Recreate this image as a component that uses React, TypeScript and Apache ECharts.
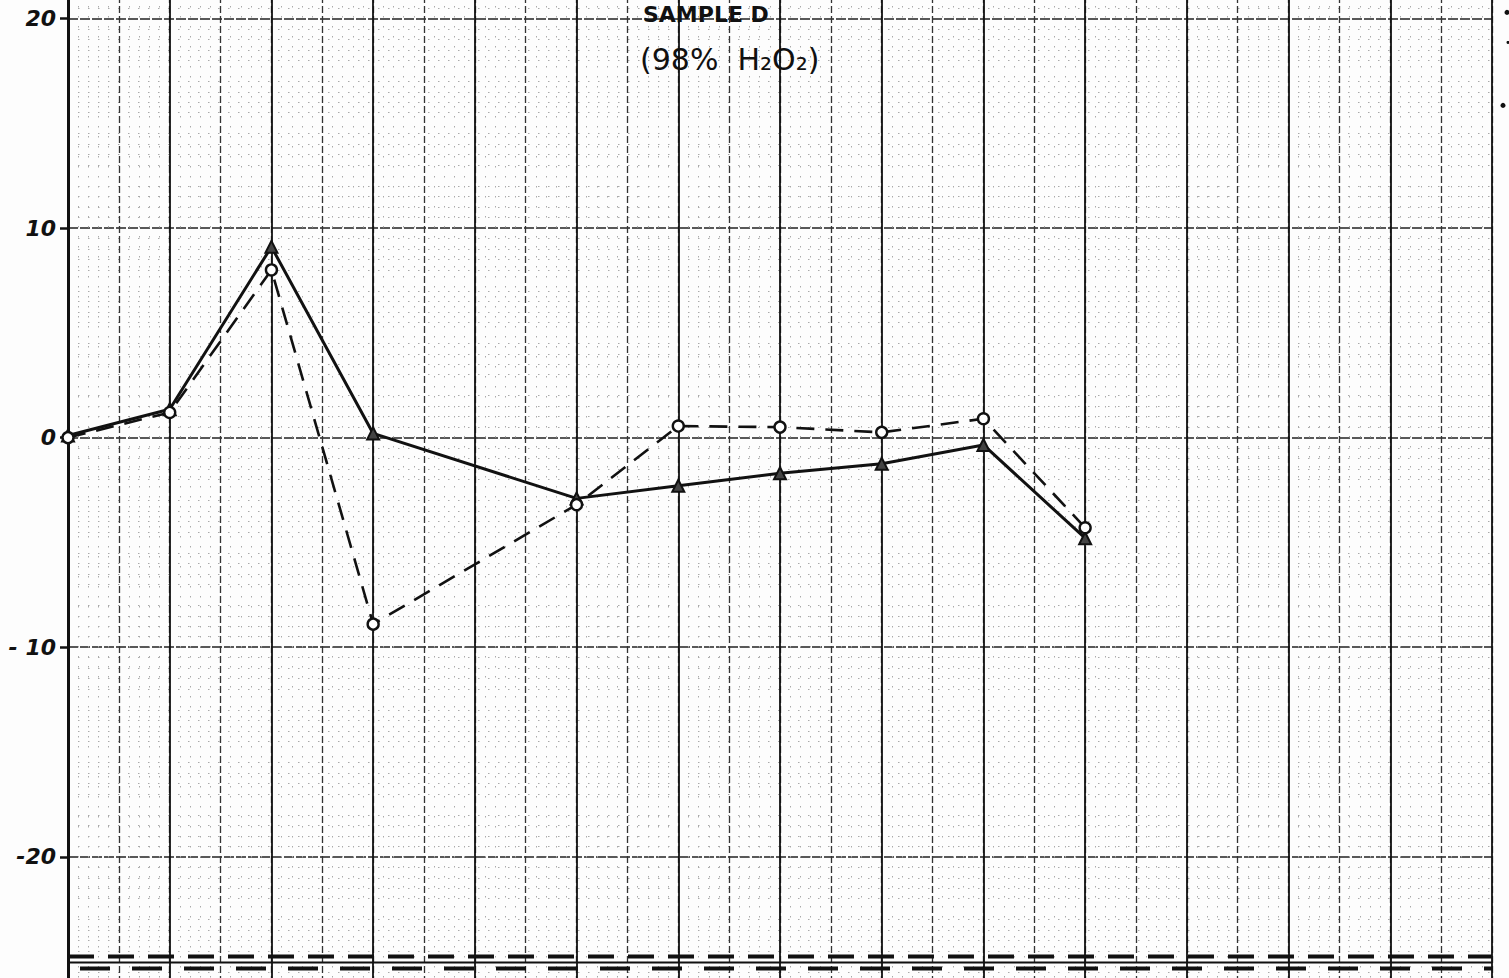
import React, { useEffect, useRef } from "react";
import * as echarts from "echarts";

const xPositions = [0, 1, 2, 3, 5, 6, 7, 8, 9, 10];
const solidSeries = [0.1, 1.35, 9.1, 0.2, -2.9, -2.3, -1.7, -1.25, -0.35, -4.8];
const dashedSeries = [0.0, 1.2, 8.0, -8.9, -3.2, 0.55, 0.5, 0.25, 0.9, -4.3];
const yTickLabels = [-20, -10, 0, 10, 20];
const titleLines = ["SAMPLE D", "(98%  H\u2082O\u2082)"];

const OFF = 34.4; // chart canvas starts this many px above the page top
const CH = 1047.5;

export default function App() {
  const ref = useRef<HTMLDivElement>(null);
  useEffect(() => {
    if (!ref.current) return;
    const chart = echarts.init(ref.current, null, { renderer: "svg" });
    const pts = (ys: number[]) => xPositions.map((x, i) => [x, ys[i]]);
    const font = "'DejaVu Sans', sans-serif";
    chart.setOption({
      animation: false,
      backgroundColor: "#fdfdfd",
      grid: { left: 68, right: 17, top: 0, bottom: 0, containLabel: false },
      xAxis: [
        {
          type: "value",
          min: 0,
          max: 14,
          interval: 0.5,
          axisLine: { show: false },
          axisTick: { show: false },
          axisLabel: { show: false },
          splitLine: { show: true, lineStyle: { color: "#333", width: 1.3, type: [7, 3] } },
          minorTick: { show: false, splitNumber: 5 },
          minorSplitLine: { show: true, lineStyle: { color: "#aaa", width: 1, type: [1.5, 8.5] } },
        },
        {
          type: "value",
          min: 0,
          max: 14,
          interval: 1,
          position: "top",
          axisLine: { show: false },
          axisTick: { show: false },
          axisLabel: { show: false },
          splitLine: { show: true, lineStyle: { color: "#111", width: 1.8 } },
        },
      ],
      yAxis: [
        {
          type: "value",
          min: -27.5,
          max: 22.5,
          interval: 2.5,
          axisLine: { show: true, lineStyle: { color: "#111", width: 3 } },
          axisTick: {
            show: true,
            length: 8,
            customValues: yTickLabels,
            lineStyle: { color: "#111", width: 2.5 },
          },
          axisLabel: {
            show: true,
            customValues: yTickLabels,
            margin: 12,
            formatter: (v: number) => (v === -10 ? "- 10" : String(v)),
            fontFamily: font,
            fontStyle: "italic",
            fontWeight: "bold",
            fontSize: 22,
            color: "#111",
          },
          splitLine: { show: true, lineStyle: { color: "#222", width: 1.6, type: [10, 2] } },
          minorTick: { show: false, splitNumber: 5 },
          minorSplitLine: { show: true, lineStyle: { color: "#aaa", width: 1, type: [1.5, 8.5] } },
        },
      ],
      series: [
        {
          name: "solid",
          type: "line",
          data: pts(solidSeries),
          lineStyle: { color: "#111", width: 3 },
          symbol: "triangle",
          symbolSize: 12,
          itemStyle: { color: "#444", borderColor: "#111", borderWidth: 2 },
          z: 5,
        },
        {
          name: "dashed",
          type: "line",
          data: pts(dashedSeries),
          lineStyle: { color: "#111", width: 2.6, type: [18, 11] },
          symbol: "circle",
          symbolSize: 11,
          itemStyle: { color: "#fff", borderColor: "#111", borderWidth: 2.4 },
          z: 6,
        },
      ],
      graphic: [
        {
          type: "text",
          left: 643,
          top: OFF + 3,
          style: { text: titleLines[0], font: `bold 22px ${font}`, fill: "#111" },
          z: 20,
        },
        {
          type: "text",
          left: 640,
          top: OFF + 44,
          style: { text: titleLines[1], font: `30px ${font}`, fill: "#111" },
          z: 20,
        },
        {
          type: "line",
          shape: { x1: 68, y1: OFF + 956, x2: 1492, y2: OFF + 956 },
          style: { stroke: "#111", lineWidth: 4, lineDash: [26, 14] },
          z: 20,
        },
        {
          type: "line",
          shape: { x1: 80, y1: OFF + 968, x2: 1492, y2: OFF + 968 },
          style: { stroke: "#111", lineWidth: 4, lineDash: [30, 22] },
          z: 20,
        },
        {
          type: "line",
          shape: { x1: 68, y1: OFF + 962, x2: 1492, y2: OFF + 962 },
          style: { stroke: "#111", lineWidth: 2 },
          z: 20,
        },
        { type: "circle", shape: { cx: 1507, cy: OFF + 12, r: 2.5 }, style: { fill: "#111" } },
        { type: "circle", shape: { cx: 1508, cy: OFF + 42, r: 1.5 }, style: { fill: "#111" } },
        { type: "circle", shape: { cx: 1503, cy: OFF + 105, r: 2.5 }, style: { fill: "#111" } },
      ],
    });
    return () => chart.dispose();
  }, []);
  return (
    <div
      style={{
        position: "fixed",
        left: 0,
        top: 0,
        width: 1509,
        height: 978,
        overflow: "hidden",
        background: "#fdfdfd",
      }}
    >
      <div
        ref={ref}
        style={{ position: "absolute", left: 0, top: -OFF, width: 1509, height: CH }}
      />
    </div>
  );
}
